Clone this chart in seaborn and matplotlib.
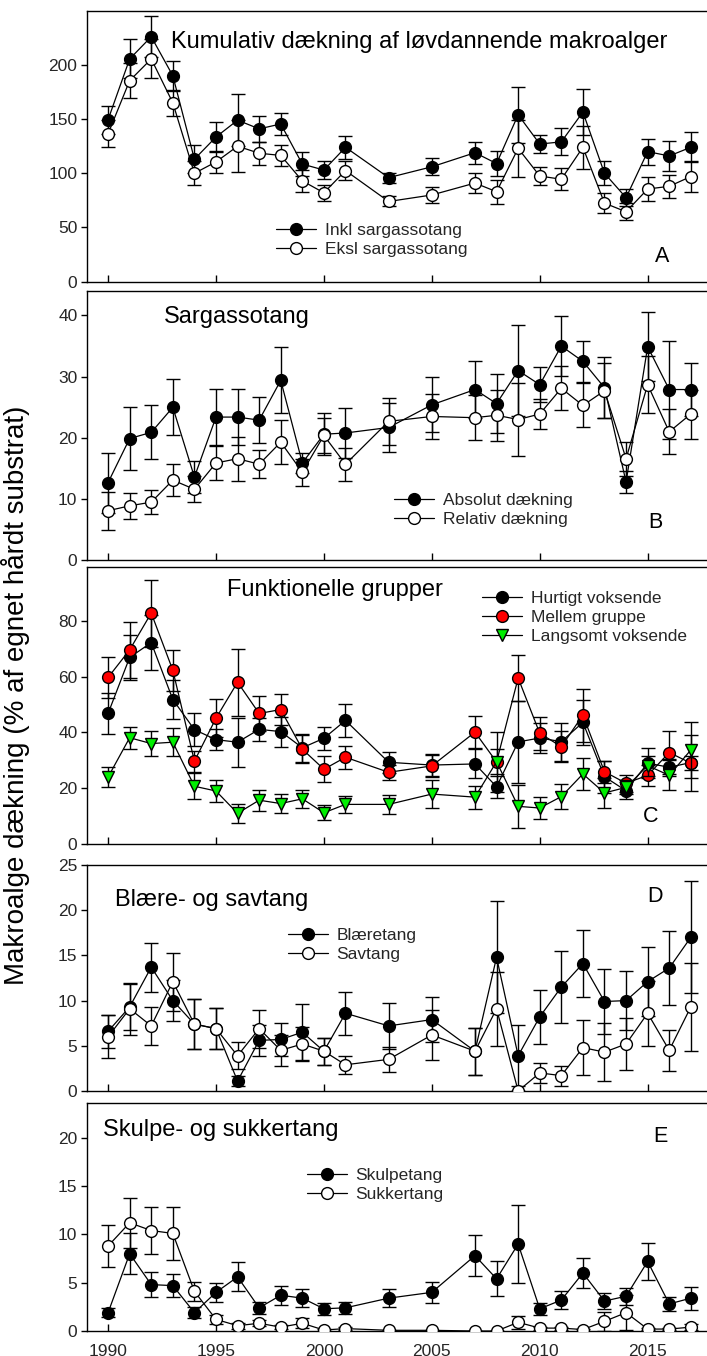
import numpy as np
import pandas as pd
import seaborn as sns
import matplotlib
matplotlib.use("Agg")
import matplotlib.pyplot as plt
from matplotlib.lines import Line2D

# ---------------- data ----------------
years = [1990, 1991, 1992, 1993, 1994, 1995, 1996, 1997, 1998, 1999, 2000, 2001,
         2003, 2005, 2007, 2008, 2009, 2010, 2011, 2012, 2013, 2014, 2015, 2016, 2017]

A_inkl = [149.5, 205.5, 226, 190, 113, 133.5, 149, 141, 145.5, 108.5, 103, 124,
          96, 106, 119, 109, 154, 127, 129, 156.5, 100, 77.5, 120, 116, 124]
A_inkl_se = [13, 18, 19, 14, 13, 13.5, 24, 12, 10, 11, 8, 10.5,
             4.5, 8, 10, 11.5, 26, 8, 12.5, 21.5, 11, 8, 12, 14, 14]
A_eksl = [136.5, 185.5, 205.5, 165, 100, 110.5, 125, 118.5, 116.5, 93, 82, 102.5,
          74, 80, 91, 83, 123, 97.5, 94.5, 124, 72.5, 64.5, 85.5, 88, 97]
A_eksl_se = [12.5, 16, 18, 12, 11, 10.5, 24, 10.5, 9.5, 10, 7.5, 9,
             4.6, 7.5, 9.5, 11, 26, 8.5, 10, 20, 9.5, 8, 10.8, 10.5, 14]

B_abs = [12.7, 19.9, 20.9, 25.0, 13.6, 23.4, 23.4, 22.9, 29.4, 15.9, 20.6, 20.8,
         21.7, 25.4, 27.9, 25.6, 31.0, 28.7, 35.0, 32.5, 28.2, 12.8, 34.9, 27.9, 27.9]
B_abs_se = [4.9, 5.2, 4.4, 4.6, 2.6, 4.6, 4.6, 3.7, 5.4, 1.6, 3.4, 4.1,
            4.0, 4.5, 4.6, 4.8, 7.4, 2.9, 4.9, 3.3, 5.0, 1.8, 5.6, 8.0, 4.3]
B_rel = [8.1, 8.9, 9.5, 13.1, 11.6, 15.9, 16.6, 15.7, 19.3, 14.4, 20.4, 15.7,
         22.7, 23.5, 23.3, 23.7, 23.0, 23.9, 28.1, 25.3, 27.7, 16.6, 28.7, 21.0, 23.9]
B_rel_se = [3.1, 2.1, 2.0, 2.6, 2.1, 2.8, 3.6, 2.3, 3.6, 2.2, 2.9, 2.7,
            3.8, 3.7, 3.7, 4.2, 5.9, 2.5, 3.6, 3.6, 4.5, 2.8, 4.6, 3.7, 4.0]

C_fast = [46.8, 66.9, 72.2, 51.8, 41.0, 37.4, 36.5, 41.1, 40.3, 34.5, 37.9, 44.3,
          29.3, 28.3, 28.7, 20.5, 36.6, 38.0, 36.7, 43.6, 24.1, 19.1, 29.0, 27.5, 29.2]
C_fast_se = [7.3, 8, 9.8, 7, 6, 3.8, 8.8, 4, 5.4, 5, 4.2, 6,
             3.8, 4, 5.2, 4, 14.7, 5.3, 6.8, 8, 5.7, 3, 5.5, 3, 2.5]
C_mid = [59.7, 69.6, 82.8, 62.3, 29.7, 45.1, 58.0, 46.8, 48.2, 34.0, 26.8, 31.1,
         25.7, 28.0, 40.1, 29.4, 59.5, 39.7, 34.9, 46.2, 25.9, 21.8, 24.6, 32.8, 29.0]
C_mid_se = [7.2, 10, 12, 7.3, 3.8, 6.8, 12, 6.2, 5.6, 5, 4.6, 4.2,
            2.7, 4, 5.8, 10.6, 8.2, 5.9, 5.5, 9.5, 4, 3, 3.7, 7.6, 10]
C_slow = [24.0, 38.1, 36.0, 36.5, 20.7, 19.0, 11.0, 15.7, 14.5, 16.2, 11.2, 14.2,
          14.2, 17.9, 16.8, 29.5, 13.5, 12.9, 17.0, 25.1, 18.3, 20.3, 28.1, 24.6, 33.7]
C_slow_se = [3.7, 4, 4.4, 5, 4.6, 4, 3.5, 3.7, 3.4, 3.3, 2.7, 3,
             3.3, 5, 4.1, 4.5, 7.7, 3.9, 4.6, 5.7, 5.3, 2.5, 3.6, 5.4, 9.9]

D_blae = [6.6, 9.3, 13.7, 10.0, 7.4, 6.9, 1.1, 5.6, 5.7, 6.5, 4.4, 8.6,
          7.2, 7.9, 4.4, 14.8, 3.9, 8.2, 11.5, 14.1, 9.9, 10.0, 12.1, 13.6, 17.0]
D_blae_se = [1.8, 2.5, 2.7, 2.3, 2.8, 2.3, 0.6, 1.7, 1.8, 3.1, 1.5, 2.4,
             2.5, 2.5, 2.6, 6.2, 3.4, 3.0, 4.0, 3.7, 3.6, 3.3, 3.8, 4.1, 6.2]
D_sav = [6.0, 9.1, 7.2, 12.1, 7.4, 6.9, 3.9, 6.9, 4.5, 5.2, 4.4, 2.9,
         3.5, 6.2, 4.4, 9.1, 0.0, 2.0, 1.7, 4.8, 4.3, 5.2, 8.6, 4.5, 9.3]
D_sav_se = [2.4, 2.9, 2.1, 3.2, 2.8, 2.3, 1.5, 2.1, 1.7, 1.9, 1.5, 1.0,
            1.4, 2.8, 2.6, 4.1, 0.0, 1.1, 1.1, 3.0, 3.2, 2.9, 3.6, 2.3, 4.9]

E_skulpe = [1.9, 8.0, 4.8, 4.7, 1.9, 4.0, 5.6, 2.4, 3.7, 3.4, 2.3, 2.4,
            3.4, 4.0, 7.8, 5.4, 9.0, 2.3, 3.2, 6.0, 3.1, 3.6, 7.2, 2.8, 3.4]
E_skulpe_se = [0.5, 2.1, 1.3, 1.2, 0.6, 1.0, 1.5, 0.6, 1.0, 0.9, 0.6, 0.6,
               0.9, 1.1, 2.1, 1.8, 4.0, 0.6, 0.9, 1.6, 0.8, 0.9, 1.9, 0.7, 1.2]
E_sukker = [8.8, 11.2, 10.4, 10.1, 4.1, 1.2, 0.55, 0.8, 0.4, 0.8, 0.1, 0.25,
            0.07, 0.07, 0.0, 0.0, 0.9, 0.3, 0.3, 0.15, 1.0, 1.9, 0.2, 0.2, 0.4]
E_sukker_se = [2.2, 2.6, 2.4, 2.7, 1.0, 0.5, 0.3, 0.3, 0.2, 0.5, 0.1, 0.15,
               0.05, 0.05, 0.0, 0.0, 0.7, 0.15, 0.15, 0.1, 1.0, 1.8, 0.1, 0.1, 0.3]

panel_titles = ["Kumulativ dækning af løvdannende makroalger", "Sargassotang",
                "Funktionelle grupper", "Blære- og savtang", "Skulpe- og sukkertang"]
panel_letters = ["A", "B", "C", "D", "E"]
ylabel = "Makroalge dækning (% af egnet hårdt substrat)"
xticks = [1990, 1995, 2000, 2005, 2010, 2015]

# ---------------- style ----------------
sns.set_theme(style="ticks")
plt.rcParams["font.family"] = ["Liberation Sans", "DejaVu Sans"]

W, H = 707, 1356
fig = plt.figure(figsize=(W / 100, H / 100), dpi=100)

def fx(px):
    return px / W

def fy(py):
    return 1 - py / H

left = 86.5
# (top_px, bottom_px, ymax, yticks)
panels = [
    (10.7, 281.7, 250, [0, 50, 100, 150, 200]),
    (291.0, 560.3, 44, [0, 10, 20, 30, 40]),
    (567.3, 844.0, 99.2, [0, 20, 40, 60, 80]),
    (865.0, 1091.0, 25, [0, 5, 10, 15, 20, 25]),
    (1103.0, 1331.0, 23.6, [0, 5, 10, 15, 20]),
]

series = [
    [("Inkl sargassotang", A_inkl, A_inkl_se, "black", "o"),
     ("Eksl sargassotang", A_eksl, A_eksl_se, "white", "o")],
    [("Absolut dækning", B_abs, B_abs_se, "black", "o"),
     ("Relativ dækning", B_rel, B_rel_se, "white", "o")],
    [("Hurtigt voksende", C_fast, C_fast_se, "black", "o"),
     ("Mellem gruppe", C_mid, C_mid_se, "#ff0000", "o"),
     ("Langsomt voksende", C_slow, C_slow_se, "#00ee00", "v")],
    [("Blæretang", D_blae, D_blae_se, "black", "o"),
     ("Savtang", D_sav, D_sav_se, "white", "o")],
    [("Skulpetang", E_skulpe, E_skulpe_se, "black", "o"),
     ("Sukkertang", E_sukker, E_sukker_se, "white", "o")],
]

# legend: (line start x px, rows centre y px)
legend_pos = [(276, 239.7), (394, 509.7), (482, 617.3), (288, 945.0), (307, 1185.0)]
title_pos = [(171, 48.3), (164, 323.3), (227, 595.7), (115, 905.7), (103, 1136.0)]
letter_pos = [(662, 256), (655, 522), (651, 816), (655, 896), (660, 1137)]

MS = 8.5
for i, (top, bot, ymax, yt) in enumerate(panels):
    ax = fig.add_axes([fx(left), fy(bot), 1 - fx(left), (bot - top) / H])
    handles = []
    for j, (lab, vals, se, fc, mk) in enumerate(series[i]):
        z = 3 + 3 * j
        df = pd.DataFrame({"year": years, "value": vals, "se": se})
        ax.errorbar(df["year"], df["value"], yerr=df["se"], fmt="none",
                    ecolor="black", elinewidth=1.0, capsize=5, capthick=1.0, zorder=z)
        sns.lineplot(data=df, x="year", y="value", ax=ax, color="black", lw=0.9,
                     marker=mk, markersize=MS, markerfacecolor=fc,
                     markeredgecolor="black", markeredgewidth=1.0, zorder=z + 1,
                     estimator=None, legend=False)
        handles.append(Line2D([], [], color="black", lw=0.9, marker=mk, markersize=MS,
                              markerfacecolor=fc, markeredgecolor="black",
                              markeredgewidth=1.0, label=lab))
    ax.set_xlim(1989.0, 2017.75)
    ax.set_ylim(0, ymax)
    ax.set_xticks(xticks)
    ax.set_yticks(yt)
    ax.set_xlabel("")
    ax.set_ylabel("")
    ax.tick_params(axis="x", direction="in", length=5, width=1.0, labelsize=12.5,
                   pad=9, labelbottom=(i == 4), color="black")
    ax.tick_params(axis="y", direction="out", length=4.5, width=1.0, labelsize=12.5,
                   pad=2, color="black")
    for s in ["left", "bottom", "top"]:
        ax.spines[s].set_visible(True)
        ax.spines[s].set_linewidth(1.0)
        ax.spines[s].set_color("black")
    ax.spines["right"].set_visible(False)
    ax.set_facecolor("white")

    leg = ax.legend(handles=handles, loc="center left",
                    bbox_to_anchor=(fx(legend_pos[i][0]), fy(legend_pos[i][1])),
                    bbox_transform=fig.transFigure, frameon=False, fontsize=12.5,
                    handlelength=2.3, handletextpad=0.5, labelspacing=0.22,
                    borderpad=0, borderaxespad=0)
    fig.text(fx(title_pos[i][0]), fy(title_pos[i][1]), panel_titles[i],
             fontsize=17, ha="left", va="baseline", color="black")
    fig.text(fx(letter_pos[i][0]), fy(letter_pos[i][1]), panel_letters[i],
             fontsize=15.5, ha="center", va="center", color="black")

fig.text(fx(16), fy(695), ylabel, rotation=90, ha="center", va="center",
         fontsize=20, color="black")

fig.savefig("out.png", dpi=100, facecolor="white")
